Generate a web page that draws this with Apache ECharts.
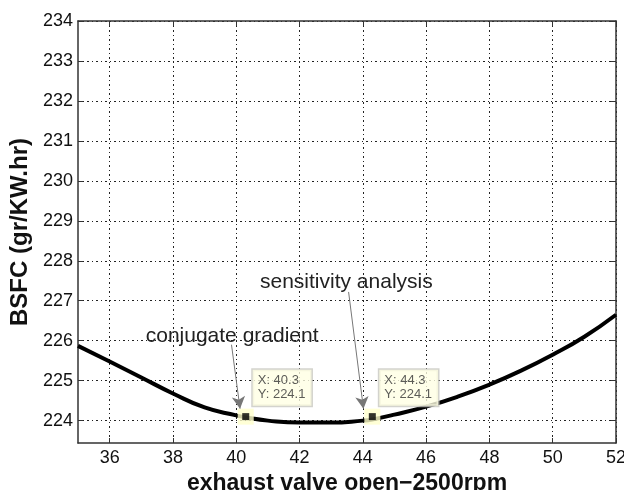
<!DOCTYPE html>
<html>
<head>
<meta charset="utf-8">
<script src="https://cdn.jsdelivr.net/npm/echarts@6/dist/echarts.min.js"></script>
<style>
  html, body { margin: 0; padding: 0; background: #fff; }
  #main { width: 624px; height: 490px; }
</style>
</head>
<body>
<div id="main"></div>
<script>
// BSFC curve
const xValues = [35, 36, 37, 38, 39, 40, 40.3, 41, 42, 43, 44, 44.3, 45, 46, 47, 48, 49, 50, 51, 52]
const bsfc = [225.87, 225.48, 225.08, 224.68, 224.33, 224.13, 224.08, 224.0, 223.95, 223.95, 224.0, 224.03, 224.15, 224.35, 224.6, 224.9, 225.25, 225.65, 226.1, 226.65]

const xTicks = [36, 38, 40, 42, 44, 46, 48, 50, 52]
const yTicks = [224, 225, 226, 227, 228, 229, 230, 231, 232, 233, 234]

// data tips
const tipX = [40.3, 44.3]
const tipY = [224.1, 224.1]

// annotations
const noteNames = ['conjugate gradient', 'sensitivity analysis']
const notePos = [[39.87, 226.12], [43.48, 227.47]]
const arrowFrom = [[39.85, 225.9], [43.55, 227.22]]
const arrowTo = [[40.12, 224.3], [44.02, 224.3]]

const font = 'Liberation Sans, Arial, sans-serif'
const grid = { type: [2, 3, 1, 3], color: '#222', width: 1 }

const chart = echarts.init(document.getElementById('main'))

const curve = xValues.map((x, i) => [x, bsfc[i]])
const tips = tipX.map((x, i) => [x, tipY[i]])

chart.setOption({
  animation: false,
  grid: { left: 78, right: 8, top: 21, bottom: 47, outerBoundsMode: 'none', containLabel: false },
  xAxis: [{
    type: 'value', min: 35, max: 52,
    name: 'exhaust valve open\u22122500rpm', nameLocation: 'middle', nameGap: 25,
    nameTextStyle: { fontFamily: font, fontSize: 23, fontWeight: 'bold', color: '#111' },
    axisLine: { lineStyle: { color: '#333', width: 1.5 } },
    axisTick: { inside: true, length: 5, customValues: xTicks, lineStyle: { color: '#333' } },
    axisLabel: { customValues: xTicks, fontFamily: font, fontSize: 18, color: '#111', margin: 6 },
    splitLine: { show: true, lineStyle: grid }
  }, {
    type: 'value', min: 35, max: 52, position: 'top',
    axisLine: { lineStyle: { color: '#333', width: 1.5 } },
    axisTick: { inside: true, length: 5, customValues: xTicks, lineStyle: { color: '#333' } },
    axisLabel: { show: false },
    splitLine: { show: false }
  }],
  yAxis: [{
    type: 'value', min: 223.44, max: 234,
    name: 'BSFC (gr/KW.hr)', nameLocation: 'middle', nameGap: 41,
    nameTextStyle: { fontFamily: font, fontSize: 24, fontWeight: 'bold', color: '#111' },
    axisLine: { show: true, lineStyle: { color: '#333', width: 1.5 } },
    axisTick: { show: true, inside: true, length: 5, customValues: yTicks, lineStyle: { color: '#333' } },
    axisLabel: { customValues: yTicks, fontFamily: font, fontSize: 18, color: '#111', margin: 5 },
    splitLine: { show: true, lineStyle: grid }
  }, {
    type: 'value', min: 223.44, max: 234, position: 'right',
    axisLine: { show: true, lineStyle: { color: '#333', width: 1.5 } },
    axisTick: { show: true, inside: true, length: 5, customValues: yTicks, lineStyle: { color: '#333' } },
    axisLabel: { show: false },
    splitLine: { show: false }
  }],
  series: [
    {
      type: 'line',
      data: curve,
      smooth: true,
      symbol: 'none',
      lineStyle: { color: '#000', width: 4 },
      markLine: {
        silent: true,
        symbol: ['none', 'arrow'],
        symbolSize: [10, 12],
        label: { show: false },
        lineStyle: { color: '#777', width: 1, type: 'solid' },
        data: arrowFrom.map((p, i) => [{ coord: p }, { coord: arrowTo[i] }])
      },
      markPoint: {
        silent: true,
        symbol: 'circle',
        symbolSize: 0,
        label: {
          show: true, formatter: '{b}', fontFamily: font, fontSize: 21, color: '#222'
        },
        data: noteNames.map((n, i) => ({ name: n, coord: notePos[i] }))
      }
    },
    {
      type: 'scatter',
      data: tips,
      symbol: 'rect',
      symbolSize: 16,
      itemStyle: { color: '#ffffcc' },
      label: {
        show: true,
        position: [15, -39],
        align: 'left',
        verticalAlign: 'top',
        formatter: p => 'X: ' + p.value[0] + '\nY: ' + p.value[1],
        fontFamily: font, fontSize: 13, lineHeight: 14, color: '#333',
        backgroundColor: '#ffffe4', borderColor: '#c8c8c0', borderWidth: 1.5,
        padding: [4, 6, 4, 5]
      },
      z: 3
    },
    {
      type: 'scatter',
      data: tips,
      symbol: 'rect',
      symbolSize: 7,
      itemStyle: { color: '#000' },
      z: 4
    }
  ]
})
</script>
</body>
</html>
